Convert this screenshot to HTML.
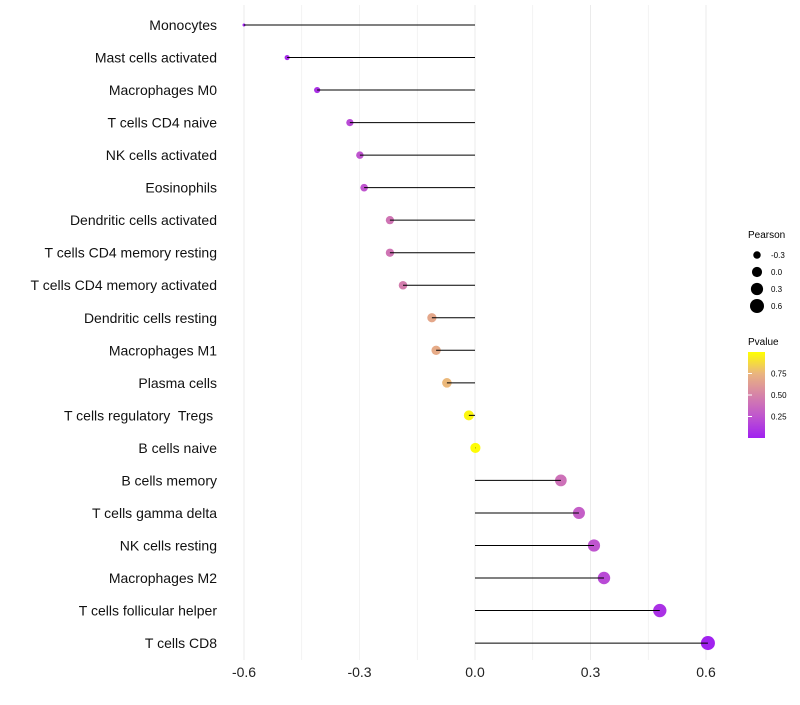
<!DOCTYPE html>
<html><head><meta charset="utf-8"><style>
body{margin:0;background:#fff;font-family:"Liberation Sans",sans-serif}
text{white-space:pre}
</style></head><body>
<svg id="chart" width="800" height="700" xmlns="http://www.w3.org/2000/svg">
<defs><linearGradient id="pg" x1="0" y1="1" x2="0" y2="0">
<stop offset="0" stop-color="#a020f0"/><stop offset="0.25" stop-color="#bf55cf"/><stop offset="0.5" stop-color="#d683a8"/><stop offset="0.75" stop-color="#eab57f"/><stop offset="1" stop-color="#ffff00"/></linearGradient></defs>
<g id="grid"></g><g id="dots"></g><g id="marks"></g><g id="labels"></g>
<g font-size="9">
<text x="748" y="238" font-size="10">Pearson</text>
<g id="sizeLeg"></g>
<text x="748" y="345" font-size="10">Pvalue</text>
<rect x="748" y="352" width="17" height="86" fill="url(#pg)"/>
<g id="colLeg"></g>
</g>
</svg>
<script>
const categories=["Monocytes","Mast cells activated","Macrophages M0","T cells CD4 naive","NK cells activated","Eosinophils","Dendritic cells activated","T cells CD4 memory resting","T cells CD4 memory activated","Dendritic cells resting","Macrophages M1","Plasma cells","T cells regulatory  Tregs ","B cells naive","B cells memory","T cells gamma delta","NK cells resting","Macrophages M2","T cells follicular helper","T cells CD8"];
const pearson=[-0.6,-0.488,-0.41,-0.325,-0.299,-0.288,-0.221,-0.221,-0.187,-0.112,-0.101,-0.073,-0.016,0.001,0.223,0.27,0.309,0.335,0.48,0.605];
const pvalue=[0.01,0.05,0.08,0.2,0.25,0.25,0.42,0.42,0.47,0.68,0.7,0.76,0.97,0.99,0.4,0.3,0.25,0.2,0.08,0.01];
const xTicks=[-0.6,-0.3,0,0.3,0.6];
const xTickLabels=["-0.6","-0.3","0.0","0.3","0.6"];
const sizeLegVals=[-0.3,0,0.3,0.6];
const colLegVals=[0.25,0.5,0.75];
const NS="http://www.w3.org/2000/svg";
const x=v=>475+v*385;
const y=i=>25+i*32.53;
const r=v=>Math.sqrt(Math.max(0,2.25+39*(v+0.6)));
const stops=[[160,32,240],[191,85,207],[214,131,168],[234,181,127],[255,255,0]];
function col(p){p=Math.max(0,Math.min(1,p));const t=p*4,i=Math.min(3,Math.floor(t)),f=t-i;const a=stops[i],b=stops[i+1];return `rgb(${a.map((c,k)=>Math.round(c+(b[k]-c)*f)).join(',')})`;}
function mk(tag,at,parent,txt){const e=document.createElementNS(NS,tag);for(const k in at)e.setAttribute(k,at[k]);if(txt!==undefined)e.textContent=txt;document.getElementById(parent).appendChild(e);return e;}
for(let v=-0.6;v<=0.61;v+=0.15){const g=mk('line',{x1:x(v),x2:x(v),y1:5,y2:660,stroke:'#ebebeb','stroke-width':Math.abs((v*100)%30)<1?1:0.6},'grid');

}
xTicks.forEach((v,i)=>{const t=mk('text',{x:x(v),y:677,'text-anchor':'middle','font-size':14,fill:'#222'},'labels',xTickLabels[i]);

});
categories.forEach((c,i)=>{
const t=mk('text',{x:217,y:y(i)+5,'text-anchor':'end','font-size':14,fill:'#111'},'labels',c);


const d=mk('circle',{cx:x(pearson[i]),cy:y(i),r:r(pearson[i]),fill:col(pvalue[i])},'dots');


const l=mk('line',{x1:x(0),x2:x(pearson[i]),y1:y(i),y2:y(i),stroke:'#000','stroke-width':1},'marks');


});
sizeLegVals.forEach((v,i)=>{const cy=255+i*17;
const c=mk('circle',{cx:757,cy:cy,r:r(v),fill:'#000'},'sizeLeg');


const t=mk('text',{x:771,y:cy+3,'font-size':8},'sizeLeg',v.toFixed(1));

});
colLegVals.forEach(v=>{const cy=438-v*86;
const l=mk('line',{x1:748,x2:752,y1:cy,y2:cy,stroke:'#fff'},'colLeg');


const t=mk('text',{x:771,y:cy+3,'font-size':8},'colLeg',v.toFixed(2));

});
</script>
</body></html>
